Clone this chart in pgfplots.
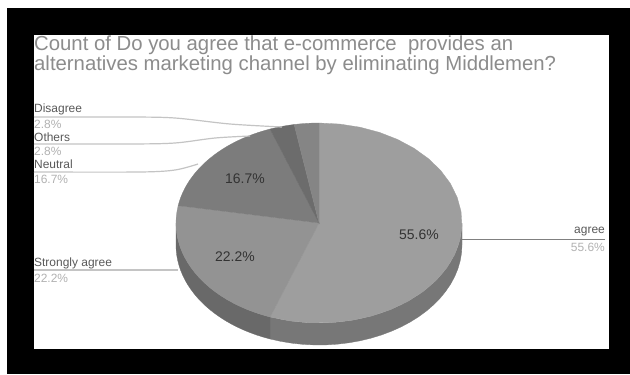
\documentclass[border=0pt]{standalone}
\usepackage{pgfplots}
\pgfplotsset{compat=1.18}
\usepackage{fontspec}
\setmainfont{Liberation Sans}
\definecolor{agreeC}{HTML}{9E9E9E}
\definecolor{strongC}{HTML}{939393}
\definecolor{neutralC}{HTML}{7C7C7C}
\definecolor{othersC}{HTML}{6C6C6C}
\definecolor{disagreeC}{HTML}{858585}
\definecolor{sideC}{HTML}{777777}
\definecolor{sideD}{HTML}{696969}
\definecolor{titleC}{HTML}{8C8C8C}
\definecolor{leadC}{HTML}{C4C4C4}

% Pie geometry, in picture units
\def\cx{319}\def\cy{223}\def\rx{143}\def\ry{100}\def\dep{22}

% Builds the outline of one slice, angles clockwise from twelve o'clock
\newcommand{\slicepath}[2]{%
  \def\pts{(\cx,\cy)}%
  \pgfmathsetmacro{\stp}{(#2-#1)/24}%
  \foreach \i in {0,...,24}{%
    \pgfmathsetmacro{\a}{#1+\i*\stp}%
    \pgfmathsetmacro{\px}{\cx+\rx*sin(\a)}%
    \pgfmathsetmacro{\py}{\cy-\ry*cos(\a)}%
    \xdef\pts{\pts (\px,\py)}%
  }%
}
% Builds the outline of the visible rim between two angles
\newcommand{\rimpath}[2]{%
  \def\pts{}%
  \pgfmathsetmacro{\stp}{(#2-#1)/24}%
  \foreach \i in {0,...,24}{%
    \pgfmathsetmacro{\a}{#1+\i*\stp}%
    \pgfmathsetmacro{\px}{\cx+\rx*sin(\a)}%
    \pgfmathsetmacro{\py}{\cy-\ry*cos(\a)}%
    \xdef\pts{\pts (\px,\py)}%
  }%
  \foreach \i in {0,...,24}{%
    \pgfmathsetmacro{\a}{#2-\i*\stp}%
    \pgfmathsetmacro{\px}{\cx+\rx*sin(\a)}%
    \pgfmathsetmacro{\py}{\cy-\ry*cos(\a)+\dep}%
    \xdef\pts{\pts (\px,\py)}%
  }%
}
\newcommand{\drawslice}[3]{%
  \slicepath{#1}{#2}%
  \edef\doplot{\noexpand\addplot[fill=#3,draw=#3,line width=0.3pt] coordinates {\pts} -- cycle;}%
  \doplot
}
\newcommand{\drawrim}[3]{%
  \rimpath{#1}{#2}%
  \edef\doplot{\noexpand\addplot[fill=#3,draw=#3,line width=0.3pt] coordinates {\pts} -- cycle;}%
  \doplot
}

\begin{document}
\begin{tikzpicture}[x=1bp,y=1bp]
\begin{axis}[
  scale only axis, width=630bp, height=374bp,
  xmin=0, xmax=630, ymin=0, ymax=374, y dir=reverse,
  hide axis, clip=false,
  every axis plot/.append style={forget plot},
  cycle list={{black}},
]
% Page, frame and white chart area
\addplot[fill=white,draw=none] coordinates {(0,0) (630,0) (630,374) (0,374)} -- cycle;
\addplot[fill=black,draw=none] coordinates {(7,8) (630,8) (630,374) (7,374)} -- cycle;
\addplot[fill=white,draw=none] coordinates {(34,35) (609,35) (609,349) (34,349)} -- cycle;

% Rim below the pie
\drawrim{90}{200}{sideC}
\drawrim{200}{270}{sideD}

% Slices: 55.6, 22.2, 16.7, 2.8, 2.8 per cent, in degrees of the circle
\drawslice{0}{200}{agreeC}
\drawslice{200}{280}{strongC}
\drawslice{280}{340}{neutralC}
\drawslice{340}{350}{othersC}
\drawslice{350}{360}{disagreeC}

% Leader lines
\addplot[leadC,line width=1.2pt,smooth] coordinates {(34,117) (130,117) (175,118) (230,124) (282,127)};
\addplot[leadC,line width=1.2pt,smooth] coordinates {(34,144) (130,144) (175,143) (215,138) (250,136)};
\addplot[leadC,line width=1.2pt,smooth] coordinates {(34,172) (140,172) (175,170) (198,164)};
\addplot[leadC,line width=1.2pt] coordinates {(34,270) (178,270)};
\addplot[gray,line width=0.8pt] coordinates {(462,239) (605,239)};

% Title
\node[anchor=west,text=titleC,font=\fontsize{20.4}{21}\selectfont,inner sep=0pt] at (axis cs:34,45.5) {Count of Do you agree that e-commerce\ \ provides an};
\node[anchor=west,text=titleC,font=\fontsize{20.4}{21}\selectfont,inner sep=0pt] at (axis cs:34,65.5) {alternatives marketing channel by eliminating Middlemen?};

% Outer labels
\begin{scope}[every node/.style={inner sep=0pt,font=\fontsize{12}{13}\selectfont}]
\node[anchor=west,text=black!65] at (axis cs:34,109) {Disagree};
\node[anchor=west,text=black!30] at (axis cs:34,124) {2.8\%};
\node[anchor=west,text=black!65] at (axis cs:34,137) {Others};
\node[anchor=west,text=black!30] at (axis cs:34,151) {2.8\%};
\node[anchor=west,text=black!65] at (axis cs:34,164) {Neutral};
\node[anchor=west,text=black!30] at (axis cs:34,179) {16.7\%};
\node[anchor=west,text=black!65] at (axis cs:34,263) {Strongly agree};
\node[anchor=west,text=black!30] at (axis cs:34,278) {22.2\%};
\node[anchor=east,text=black!65] at (axis cs:605,232) {agree};
\node[anchor=east,text=black!30] at (axis cs:605,247) {55.6\%};
\end{scope}

% Percentages on the slices
\begin{scope}[every node/.style={inner sep=0pt,text=black!80,font=\fontsize{14}{15}\selectfont}]
\node at (axis cs:419,235) {55.6\%};
\node at (axis cs:235,257) {22.2\%};
\node at (axis cs:245,179) {16.7\%};
\end{scope}
\end{axis}
\end{tikzpicture}
\end{document}
